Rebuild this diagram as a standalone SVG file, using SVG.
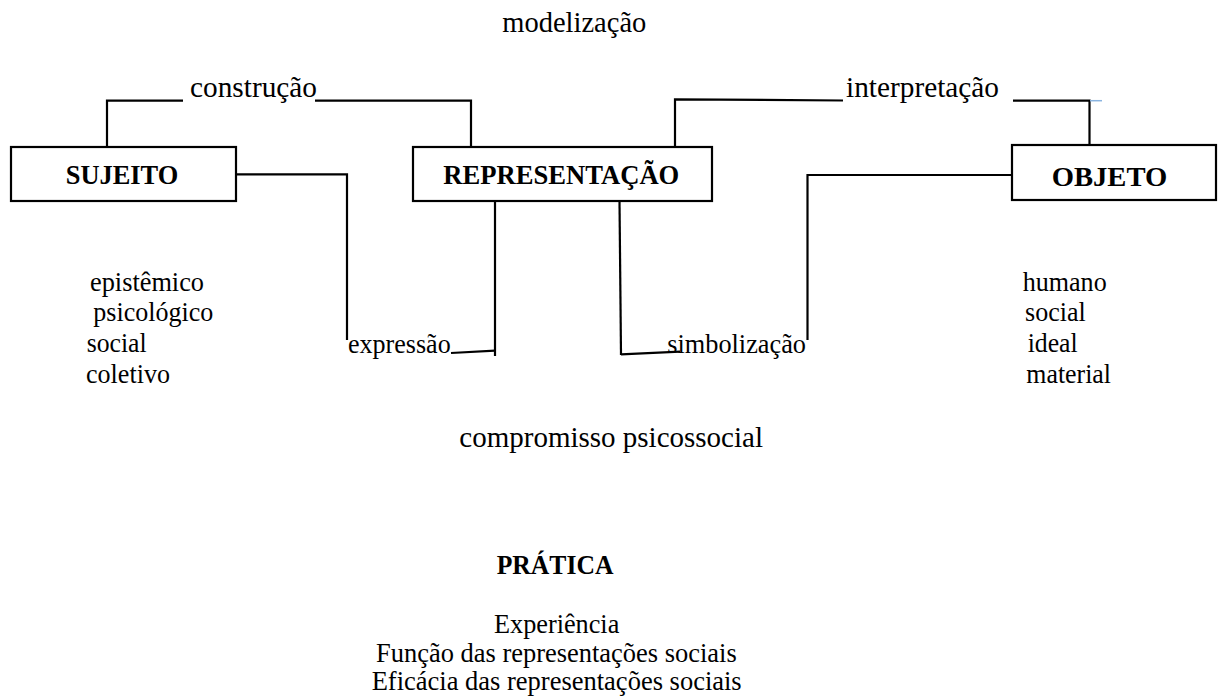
<svg xmlns="http://www.w3.org/2000/svg" width="1221" height="700" viewBox="0 0 1221 700">
<style>
text{font-family:"Liberation Serif","Times New Roman",serif;fill:#000}
.lbl{font-size:29px}
.t{font-size:26.3px}
.b{font-size:26.5px;font-weight:bold}
.box{fill:#fff;stroke:#000;stroke-width:2.2}
.c{fill:none;stroke:#000;stroke-width:2.2}
</style>
<rect width="1221" height="700" fill="#fff"/>
<g id="connectors">
<path class="c" d="M107,147 V100.7 H183"/>
<path class="c" d="M315,100.7 H471 V147"/>
<path class="c" d="M675,146 V99.3 L843,100.5"/>
<path class="c" d="M1013,100.7 H1089.5 V145"/>
<path d="M1090,100.7 H1102" stroke="#8ab4e0" stroke-width="1.5" fill="none"/>
<path class="c" d="M236,174.3 H347 V340"/>
<path class="c" d="M451,353 L495,350.7"/>
<path class="c" d="M495,201 V356"/>
<path class="c" d="M619.5,201 L621,355"/>
<path class="c" d="M621,354.3 L680,351.7"/>
<path class="c" d="M1012,175 H807.5 V340"/>
</g>
<g id="label-modelizacao"><text class="lbl" x="502.3" y="32.3" textLength="144" lengthAdjust="spacingAndGlyphs">modelização</text></g>
<g id="label-construcao"><text class="lbl" x="190" y="97.3" textLength="127" lengthAdjust="spacingAndGlyphs">construção</text></g>
<g id="label-interpretacao"><text class="lbl" x="846" y="96.5" textLength="153" lengthAdjust="spacingAndGlyphs">interpretação</text></g>
<g id="node-sujeito">
<rect class="box" x="11" y="147" width="225" height="54"/>
<text class="b" x="65.7" y="184" textLength="112.6" lengthAdjust="spacingAndGlyphs">SUJEITO</text>
</g>
<g id="node-representacao">
<rect class="box" x="413" y="147" width="299" height="54"/>
<text class="b" x="443.3" y="184" textLength="236" lengthAdjust="spacingAndGlyphs">REPRESENTAÇÃO</text>
</g>
<g id="node-objeto">
<rect class="box" x="1012" y="145" width="204" height="55"/>
<text class="b" x="1051.7" y="186" textLength="115.6" lengthAdjust="spacingAndGlyphs">OBJETO</text>
</g>
<g id="sujeito-list">
<text class="t" x="90" y="291" textLength="114" lengthAdjust="spacingAndGlyphs">epistêmico</text>
<text class="t" x="93.3" y="320.7" textLength="120" lengthAdjust="spacingAndGlyphs">psicológico</text>
<text class="t" x="86.7" y="351.7" textLength="60" lengthAdjust="spacingAndGlyphs">social</text>
<text class="t" x="86" y="382.7" textLength="84" lengthAdjust="spacingAndGlyphs">coletivo</text>
</g>
<g id="label-expressao"><text class="t" x="348" y="353" textLength="102.7" lengthAdjust="spacingAndGlyphs">expressão</text></g>
<g id="label-simbolizacao"><text class="t" x="667.3" y="352.7" textLength="138.7" lengthAdjust="spacingAndGlyphs">simbolização</text></g>
<g id="objeto-list">
<text class="t" x="1022.7" y="290.7" textLength="84" lengthAdjust="spacingAndGlyphs">humano</text>
<text class="t" x="1025" y="321" textLength="60.7" lengthAdjust="spacingAndGlyphs">social</text>
<text class="t" x="1027.7" y="351.7" textLength="50" lengthAdjust="spacingAndGlyphs">ideal</text>
<text class="t" x="1026.3" y="383.3" textLength="84.7" lengthAdjust="spacingAndGlyphs">material</text>
</g>
<g id="label-compromisso"><text class="lbl" x="459.3" y="446.7">compromisso psicossocial</text></g>
<g id="node-pratica">
<text class="b" x="496.7" y="574" textLength="116.7" lengthAdjust="spacingAndGlyphs">PRÁTICA</text>
<text class="t" x="494" y="633.3" textLength="125.3" lengthAdjust="spacingAndGlyphs">Experiência</text>
<text class="t" x="376" y="661.7" textLength="360.7" lengthAdjust="spacingAndGlyphs">Função das representações sociais</text>
<text class="t" x="371.7" y="690" textLength="370" lengthAdjust="spacingAndGlyphs">Eficácia das representações sociais</text>
</g>
</svg>
